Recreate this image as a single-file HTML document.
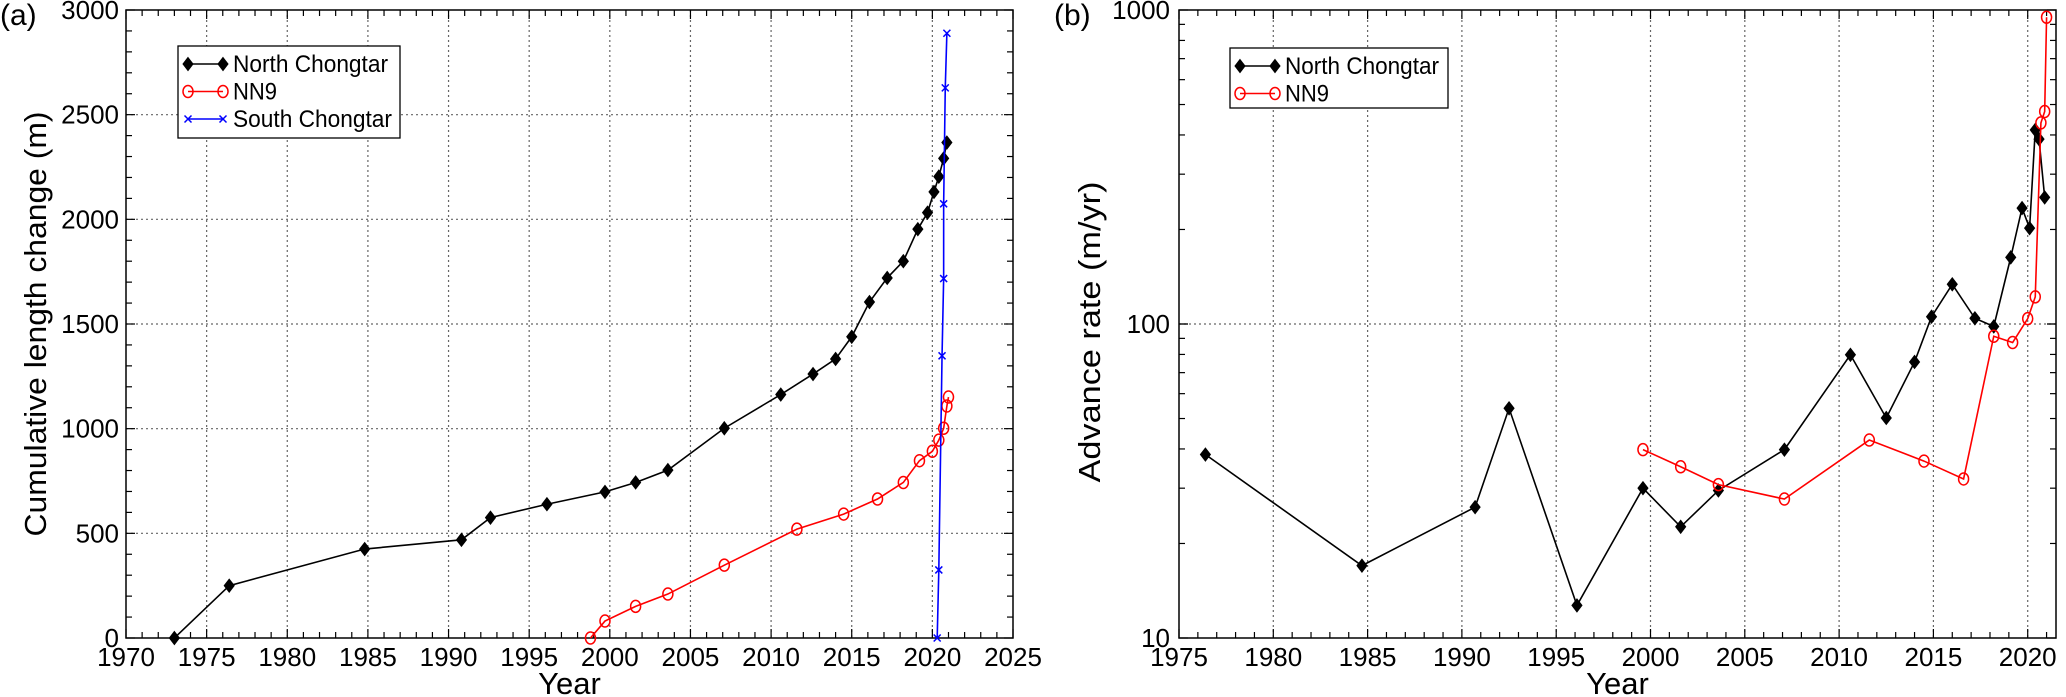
<!DOCTYPE html>
<html><head><meta charset="utf-8"><style>
html,body{margin:0;padding:0;background:#fff;}
svg{display:block;font-family:"Liberation Sans",sans-serif;}
</style></head><body>
<svg id="chart" width="2066" height="697" viewBox="0 0 2066 697" xmlns="http://www.w3.org/2000/svg"></svg>
<script>
// Panel (a) data
const ncYearsA = [1973.0,1976.4,1984.8,1990.8,1992.6,1996.1,1999.7,2001.6,2003.6,2007.1,2010.6,2012.6,2014.0,2015.0,2016.1,2017.2,2018.2,2019.1,2019.7,2020.1,2020.4,2020.7,2020.9];
const ncLength = [0,250,425,469,575,639,698,743,802,1002,1163,1261,1333,1439,1605,1720,1800,1953,2032,2131,2204,2291,2367];
const nn9YearsA = [1998.8,1999.7,2001.6,2003.6,2007.1,2011.6,2014.5,2016.6,2018.2,2019.2,2020.0,2020.4,2020.7,2020.9,2021.0];
const nn9Length = [0,81,151,210,348,520,592,664,743,847,892,945,1002,1108,1151];
const scYears = [2020.3,2020.4,2020.6,2020.7,2020.7,2020.8,2020.9];
const scLength = [0,325,1348,1717,2074,2628,2889];
const xTicksA = [1970,1975,1980,1985,1990,1995,2000,2005,2010,2015,2020,2025];
const yTicksA = [0,500,1000,1500,2000,2500,3000];
// Panel (b) data
const ncYearsB = [1976.4,1984.7,1990.7,1992.5,1996.1,1999.6,2001.6,2003.6,2007.1,2010.6,2012.5,2014.0,2014.9,2016.0,2017.2,2018.2,2019.1,2019.7,2020.1,2020.4,2020.6,2020.9];
const ncRate = [38.4,17.0,26.1,53.9,12.7,30.0,22.6,29.5,39.8,79.8,50.2,75.7,105.5,133.8,104.3,98.2,163,234,202,415,388,253];
const nn9YearsB = [1999.6,2001.6,2003.6,2007.1,2011.6,2014.5,2016.6,2018.2,2019.2,2020.0,2020.4,2020.7,2020.9,2021.0];
const nn9Rate = [39.8,35.1,30.8,27.7,42.7,36.6,32.1,91.4,87.3,104,122,437,475,948];
const xTicksB = [1975,1980,1985,1990,1995,2000,2005,2010,2015,2020];
const yTicksB = [10,100,1000];

const NS="http://www.w3.org/2000/svg";
const svg=document.getElementById('chart');
function mk(tag,attrs,parent){const e=document.createElementNS(NS,tag);for(const k in attrs)e.setAttribute(k,attrs[k]);(parent||svg).appendChild(e);return e;}
const TF=26;

// ---------- Panel A ----------
const A={l:126,r:1013,t:10,b:638,x0:1970,x1:2025,y0:0,y1:3000};
const xa=v=>A.l+(v-A.x0)/(A.x1-A.x0)*(A.r-A.l);
const ya=v=>A.b-(v-A.y0)/(A.y1-A.y0)*(A.b-A.t);
const gA=mk('g',{});


xTicksA.forEach(t=>{if(t>A.x0&&t<A.x1){const l=mk('line',{x1:xa(t),x2:xa(t),y1:A.t,y2:A.b,stroke:'#666','stroke-dasharray':'2,3','stroke-width':1.2},gA);}});
yTicksA.forEach(t=>{if(t>A.y0&&t<A.y1){const l=mk('line',{x1:A.l,x2:A.r,y1:ya(t),y2:ya(t),stroke:'#666','stroke-dasharray':'2,3','stroke-width':1.2},gA);}});
for(let y=A.x0;y<=A.x1;y++){const len=(y%5===0)?9:6;mk('line',{x1:xa(y),x2:xa(y),y1:A.b,y2:A.b-len,stroke:'#000','stroke-width':1.2},gA);mk('line',{x1:xa(y),x2:xa(y),y1:A.t,y2:A.t+len,stroke:'#000','stroke-width':1.2},gA);}
for(let v=0;v<=3000;v+=100){const len=(v%500===0)?9:6;mk('line',{x1:A.l,x2:A.l+len,y1:ya(v),y2:ya(v),stroke:'#000','stroke-width':1.2},gA);mk('line',{x1:A.r,x2:A.r-len,y1:ya(v),y2:ya(v),stroke:'#000','stroke-width':1.2},gA);}
const fa=mk('rect',{x:A.l,y:A.t,width:A.r-A.l,height:A.b-A.t,fill:'none',stroke:'#000','stroke-width':1.5},gA);

xTicksA.forEach(t=>{const e=mk('text',{x:xa(t),y:666,'font-size':TF,'text-anchor':'middle'},gA);e.textContent=t;});
yTicksA.forEach(t=>{const e=mk('text',{x:A.l-7,y:ya(t)+9,'font-size':TF,'text-anchor':'end'},gA);e.textContent=t;});
let t1=mk('text',{x:(A.l+A.r)/2,y:694,'font-size':31,'text-anchor':'middle'},gA);t1.textContent='Year';

let t2=mk('text',{x:0,y:0,'font-size':31,'text-anchor':'middle',textLength:425,lengthAdjust:'spacingAndGlyphs',transform:`translate(46,324) rotate(-90)`},gA);t2.textContent='Cumulative length change (m)';

let t3=mk('text',{x:0,y:25,'font-size':30},gA);t3.textContent='(a)';


function marker(type,x,y,g,col){
  if(type==='d'){return mk('polygon',{points:`${x},${y-6.5} ${x+5},${y} ${x},${y+6.5} ${x-5},${y}`,fill:'#000',stroke:'#000'},g);}
  if(type==='o'){return mk('ellipse',{cx:x,cy:y,rx:5,ry:6,fill:'none',stroke:col,'stroke-width':1.5},g);}
  const gg=mk('g',{},g);mk('line',{x1:x-3.5,y1:y-3.5,x2:x+3.5,y2:y+3.5,stroke:col,'stroke-width':1.5},gg);mk('line',{x1:x-3.5,y1:y+3.5,x2:x+3.5,y2:y-3.5,stroke:col,'stroke-width':1.5},gg);return gg;
}
function series(xs,ys,fx,fy,col,type,name,parent){
  const g=mk('g',{},parent);
  
  
  mk('polyline',{points:xs.map((x,i)=>fx(x)+','+fy(ys[i])).join(' '),fill:'none',stroke:col,'stroke-width':1.6},g);
  xs.forEach((x,i)=>{const m=marker(type,fx(x),fy(ys[i]),g,col);});
}
series(ncYearsA,ncLength,xa,ya,'#000','d','north-chongtar-series-a',gA);
series(nn9YearsA,nn9Length,xa,ya,'#f00','o','nn9-series-a',gA);
series(scYears,scLength,xa,ya,'#00f','x','south-chongtar-series',gA);

function legend(x,y,w,h,entries,name,parent){
  const g=mk('g',{},parent);
  
  
  mk('rect',{x:x,y:y,width:w,height:h,fill:'#fff',stroke:'#000','stroke-width':1.3},g);
  entries.forEach((en,i)=>{
    const ey=y+18+i*27.5;
    const eg=mk('g',{},g);
    
    
    mk('line',{x1:x+10,x2:x+45,y1:ey,y2:ey,stroke:en.c,'stroke-width':1.6},eg);
    marker(en.t,x+10,ey,eg,en.c);marker(en.t,x+45,ey,eg,en.c);
    const tx=mk('text',{x:x+55,y:ey+8,'font-size':24,textLength:en.w,lengthAdjust:'spacingAndGlyphs'},eg);tx.textContent=en.l;
  });
}
legend(178,46,222,92,[{l:'North Chongtar',c:'#000',t:'d',w:155},{l:'NN9',c:'#f00',t:'o',w:44},{l:'South Chongtar',c:'#00f',t:'x',w:159}],'legend-a',gA);

// ---------- Panel B ----------
const B={l:1179,r:2056,t:10,b:638,x0:1975,x1:2021.5};
const xb=v=>B.l+(v-B.x0)/(B.x1-B.x0)*(B.r-B.l);
const yb=v=>B.b-(Math.log10(v)-1)/2*(B.b-B.t);
const gB=mk('g',{});


xTicksB.forEach(t=>{if(t>B.x0){const l=mk('line',{x1:xb(t),x2:xb(t),y1:B.t,y2:B.b,stroke:'#666','stroke-dasharray':'2,3','stroke-width':1.2},gB);}});
const gy=mk('line',{x1:B.l,x2:B.r,y1:yb(100),y2:yb(100),stroke:'#666','stroke-dasharray':'2,3','stroke-width':1.2},gB);

for(let y=1975;y<=2021;y++){const len=(y%5===0)?9:6;mk('line',{x1:xb(y),x2:xb(y),y1:B.b,y2:B.b-len,stroke:'#000','stroke-width':1.2},gB);mk('line',{x1:xb(y),x2:xb(y),y1:B.t,y2:B.t+len,stroke:'#000','stroke-width':1.2},gB);}
[10,100].forEach(d=>{for(let k=1;k<=10;k++){const v=d*k;const len=(k===1||k===10)?9:6;mk('line',{x1:B.l,x2:B.l+len,y1:yb(v),y2:yb(v),stroke:'#000','stroke-width':1.2},gB);mk('line',{x1:B.r,x2:B.r-len,y1:yb(v),y2:yb(v),stroke:'#000','stroke-width':1.2},gB);}});
const fb=mk('rect',{x:B.l,y:B.t,width:B.r-B.l,height:B.b-B.t,fill:'none',stroke:'#000','stroke-width':1.5},gB);

xTicksB.forEach(t=>{const e=mk('text',{x:xb(t),y:666,'font-size':TF,'text-anchor':'middle'},gB);e.textContent=t;});
yTicksB.forEach(t=>{const e=mk('text',{x:B.l-9,y:yb(t)+9,'font-size':TF,'text-anchor':'end'},gB);e.textContent=t;});
let b1=mk('text',{x:(B.l+B.r)/2,y:694,'font-size':31,'text-anchor':'middle'},gB);b1.textContent='Year';

let b2=mk('text',{x:0,y:0,'font-size':31,'text-anchor':'middle',textLength:301,lengthAdjust:'spacingAndGlyphs',transform:`translate(1100,332) rotate(-90)`},gB);b2.textContent='Advance rate (m/yr)';

let b3=mk('text',{x:1054,y:25,'font-size':30},gB);b3.textContent='(b)';

series(ncYearsB,ncRate,xb,yb,'#000','d','north-chongtar-series-b',gB);
series(nn9YearsB,nn9Rate,xb,yb,'#f00','o','nn9-series-b',gB);
legend(1230,48,218,60,[{l:'North Chongtar',c:'#000',t:'d',w:154},{l:'NN9',c:'#f00',t:'o',w:44}],'legend-b',gB);
</script>
</body></html>
